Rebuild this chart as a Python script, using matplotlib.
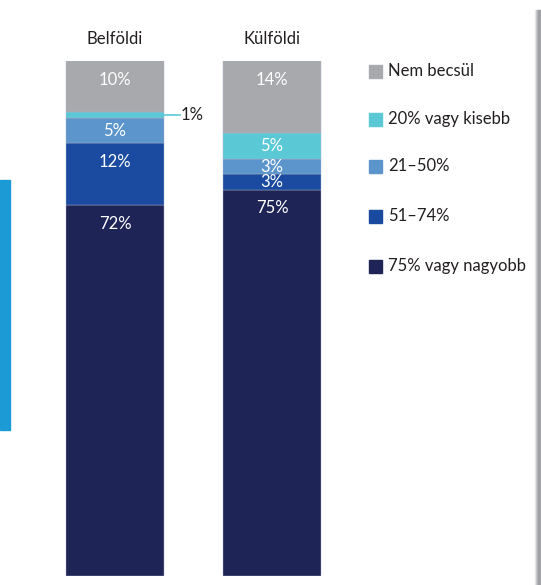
import numpy as np
import matplotlib.pyplot as plt
from matplotlib.patches import Rectangle

plt.rcParams['font.family'] = ['Lato', 'DejaVu Sans']

# data
groups = ["Belföldi", "Külföldi"]
categories = ["75% vagy nagyobb", "51\u201374%", "21\u201350%", "20% vagy kisebb", "Nem becsül"]
values = {
    "Belföldi": [72, 12, 5, 1, 10],
    "Külföldi": [75, 3, 3, 5, 14],
}
colors = ["#1f2456", "#1a4ba0", "#5b95cb", "#5bc8d6", "#a7a9ac"]

W, H = 541, 585
fig = plt.figure(figsize=(W / 100, H / 100), dpi=100)

# axes placed so that 0..100 spans pixel rows 576..61
ax = fig.add_axes([0, (H - 576) / H, 1, (576 - 61) / H])
ax.set_xlim(-115 / 157, (W - 115) / 157)
ax.set_ylim(0, 100)
ax.axis("off")

bw = 98 / 157
for i, g in enumerate(groups):
    bottom = 0
    for v, c in zip(values[g], colors):
        ax.bar(i, v, bw, bottom=bottom, color=c, edgecolor="#aeb3c8", linewidth=0.3)
        top = bottom + v
        if v >= 2:
            ly = top - min(v / 2, 3.6)
            ax.text(i, ly, f"{v}%", color="white", fontsize=12, ha="center", va="center")
        bottom = top
    ax.text(i, 100 + 4.3, g, color="#231f20", fontsize=12, ha="center", va="center")

# callout for the 1% segment of Belföldi
v = values["Belföldi"]
y1 = sum(v[:3]) + v[3] / 2
ax.plot([bw / 2, bw / 2 + 0.1], [y1, y1], color="#5bc8d6", lw=1.2)
ax.text(bw / 2 + 0.105, y1, f"{v[3]}%", color="#231f20", fontsize=12, ha="left", va="center")

# legend (top to bottom: reversed stacking order)
leg_rows = [71, 119, 166, 216, 266]
for row, cat, c in zip(leg_rows, categories[::-1], colors[::-1]):
    fig.patches.append(Rectangle((369, H - row - 6.5), 13, 13, color=c, transform=None))
    fig.text(388 / W, 1 - row / H, cat, color="#231f20", fontsize=12, ha="left", va="center")

# blue tab on the left page edge
fig.patches.append(Rectangle((0, H - 430), 10, 250, color="#1b9ad6", transform=None))

# page edge shading on the right
for k, c in enumerate(["#ececed", "#cfd0d2", "#b4b5b8", "#a5a6a9", "#9c9da0", "#a5a6a9"]):
    fig.patches.append(Rectangle((535 + k, 0), 1, H - 10, color=c, transform=None))

fig.savefig("out.png", dpi=100)
